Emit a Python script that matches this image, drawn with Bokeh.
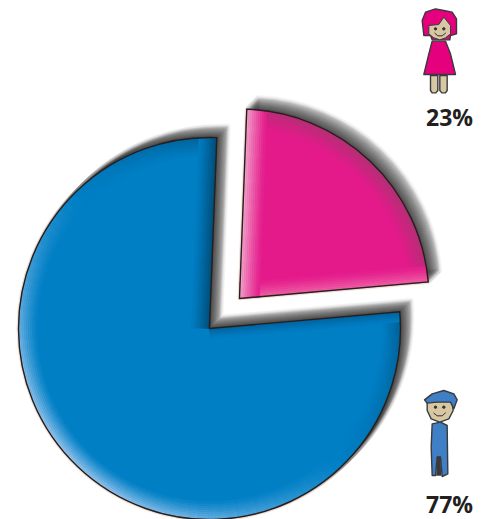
import math
from bokeh.plotting import figure
from bokeh.models import Range1d, ColumnDataSource
from bokeh.embed import file_html
from bokeh.resources import INLINE
from bokeh.core.properties import value

categories = ["Girls", "Boys"]
shares = [23, 77]
labels = ["23%", "77%"]

W, H = 484, 519
START_DEG = 5.0
BLUE = (0, 127, 197)
PINK = (228, 26, 139)


def Y(py):
    return H - py


def hexc(c):
    return "#%02x%02x%02x" % tuple(int(round(v)) for v in c)


def mix(a, b, t):
    return tuple(a[i] + (b[i] - a[i]) * t for i in range(3))


p = figure(width=W, height=H, x_range=Range1d(0, W), y_range=Range1d(0, H),
           output_backend="svg", toolbar_location=None, min_border=0,
           outline_line_color=None, background_fill_color="white")
p.axis.visible = False
p.grid.visible = False

# sector angles from the values
a0 = math.radians(START_DEG)
a1 = a0 + 2 * math.pi * shares[0] / sum(shares)
sectors = [
    dict(cx=239, cy=Y(298), r=189.5, start=a0, end=a1, base=PINK),
    dict(cx=209, cy=Y(328), r=191.0, start=a1, end=a0 + 2 * math.pi, base=BLUE),
]


def shadow(s):
    for k in range(1, 17):
        off = k * 0.72
        p.wedge(x=s["cx"] + off, y=s["cy"] + off, radius=s["r"], start_angle=s["start"], end_angle=s["end"],
                fill_color="black", fill_alpha=.055, line_color="black", line_alpha=.03, line_width=5,
                line_join="round")


def halo(s):
    p.wedge(x=s["cx"], y=s["cy"], radius=s["r"], start_angle=s["start"], end_angle=s["end"],
            fill_color=None, line_color="#f6d8c6", line_alpha=.6, line_width=4, line_join="round")


def rim(s, light, dark, depth, light_dir=225.0):
    xs = dict(inner=[], outer=[], st=[], en=[], col=[])
    step = math.radians(3)
    n = int((s["end"] - s["start"]) / step) + 1
    dth = (s["end"] - s["start"]) / n
    rings = int(depth / 2)
    for k in range(rings):
        d = k * 2
        frac = (1 - d / depth) ** 1.1
        for i in range(n):
            th = s["start"] + i * dth
            sh = math.cos(th + dth / 2 - math.radians(light_dir))
            target = mix(s["base"], light, sh) if sh > 0 else mix(s["base"], dark, -sh)
            xs["inner"].append(s["r"] - d - 2)
            xs["outer"].append(s["r"] - d)
            xs["st"].append(th)
            xs["en"].append(th + dth)
            xs["col"].append(hexc(mix(s["base"], target, frac)))
    p.annular_wedge(x=s["cx"], y=s["cy"], inner_radius="inner", outer_radius="outer",
                    start_angle="st", end_angle="en", fill_color="col", line_color="col",
                    line_width=.5, source=ColumnDataSource(xs))


def strip(s, angle, sign, col, depth, s0=0.0):
    ux, uy = math.cos(angle), math.sin(angle)
    nx, ny = -uy * sign, ux * sign
    xs, ys, cs = [], [], []
    for k in range(int(depth / 2)):
        d = k * 2
        frac = (1 - d / depth) ** 1.2
        e = math.sqrt(s["r"] ** 2 - (d + 2) ** 2) - 1
        b = s0 * (d + 2)
        pts = [(b, d), (e, d), (e, d + 2), (b, d + 2)]
        xs.append([s["cx"] + ux * a + nx * q for a, q in pts])
        ys.append([s["cy"] + uy * a + ny * q for a, q in pts])
        cs.append(hexc(mix(s["base"], col, frac)))
    p.patches(xs, ys, fill_color=cs, line_color=cs, line_width=.5)


def outline(s):
    p.wedge(x=s["cx"], y=s["cy"], radius=s["r"], start_angle=s["start"], end_angle=s["end"],
            fill_color=None, line_color="#241f20", line_width=1.4, line_join="miter")


for s in sectors:
    halo(s)
for s in sectors:
    shadow(s)

pink, blue = sectors
for s in (blue, pink):
    p.wedge(x=s["cx"], y=s["cy"], radius=s["r"], start_angle=s["start"], end_angle=s["end"],
            fill_color=hexc(s["base"]), line_color="white", line_width=0)

rim(blue, (150, 195, 235), (0, 85, 130), 18)
strip(blue, blue["end"], -1, (0, 100, 160), 10)
strip(blue, blue["start"], 1, (0, 78, 120), 18)
outline(blue)

rim(pink, (238, 120, 180), (175, 50, 115), 20)
strip(pink, pink["start"], 1, (238, 95, 165), 16, s0=0.1)
strip(pink, pink["end"], -1, (242, 160, 200), 20, s0=0.1)
outline(pink)


# pictograms, outlined in small local coordinates (3 units = 1 px)
def ic(ox, oy, pts):
    return [ox + a / 3 for a, _ in pts], [Y(oy + b / 3) for _, b in pts]


def shape(ox, oy, pts, fill, lw=1.4, line="#3a3a3c"):
    x, y = ic(ox, oy, pts)
    p.patch(x, y, fill_color=fill, line_color=line, line_width=lw, line_join="round")


def curve(ox, oy, pts, col="#33302e", lw=1.0):
    x, y = ic(ox, oy, pts)
    p.line(x, y, line_color=col, line_width=lw, line_cap="round")


def dot(ox, oy, a, b, r=1.2):
    p.scatter([ox + a / 3], [Y(oy + b / 3)], size=r * 2, color="#33302e")


TAN = "#d8c7a3"
PK = "#e5007e"
BL = "#3f7fc6"

# girl
gx, gy = 400, 0
shape(gx, gy, [(90, 225), (112, 225), (112, 270), (106, 277), (95, 277), (90, 270)], TAN)
shape(gx, gy, [(118, 225), (140, 225), (140, 270), (135, 277), (124, 277), (118, 270)], TAN)
shape(gx, gy, [(65, 60), (75, 35), (105, 25), (130, 30), (155, 35), (168, 55), (168, 100), (150, 105), (148, 118),
               (95, 118), (90, 105), (70, 105)], PK)
shape(gx, gy, [(85, 75), (115, 72), (130, 50), (150, 75), (150, 100), (135, 112), (118, 118), (100, 112), (85, 100)], TAN, 1.0)
shape(gx, gy, [(95, 122), (135, 122), (150, 160), (165, 222), (70, 222), (85, 160)], PK)
dot(gx, gy, 105, 85)
dot(gx, gy, 130, 85)
curve(gx, gy, [(103, 98), (112, 106), (125, 106), (135, 98)])

# boy
bx, by = 400, 380
shape(bx, by, [(95, 130), (120, 125), (140, 135), (142, 280), (125, 288), (120, 230), (110, 230), (105, 285), (95, 285),
               (92, 200)], BL)
shape(bx, by, [(110, 228), (120, 228), (122, 285), (108, 285)], "#3a3a3c", 0.5)
shape(bx, by, [(80, 65), (155, 60), (158, 90), (145, 115), (118, 125), (92, 115), (80, 90)], TAN)
shape(bx, by, [(72, 58), (95, 40), (130, 30), (160, 40), (170, 58), (160, 85), (150, 65), (110, 65), (80, 68)], BL)
dot(bx, by, 105, 80)
dot(bx, by, 130, 80)
curve(bx, by, [(100, 98), (110, 106), (125, 106), (135, 97)])

# labels
p.text(x=[449, 449], y=[Y(116), Y(503)], text=labels, text_align="center", text_baseline="middle",
       text_font=value("Open Sans"), text_font_style="bold", text_font_size="23px", text_color="#231f20")

open("out.html", "w").write(file_html(p, INLINE))
